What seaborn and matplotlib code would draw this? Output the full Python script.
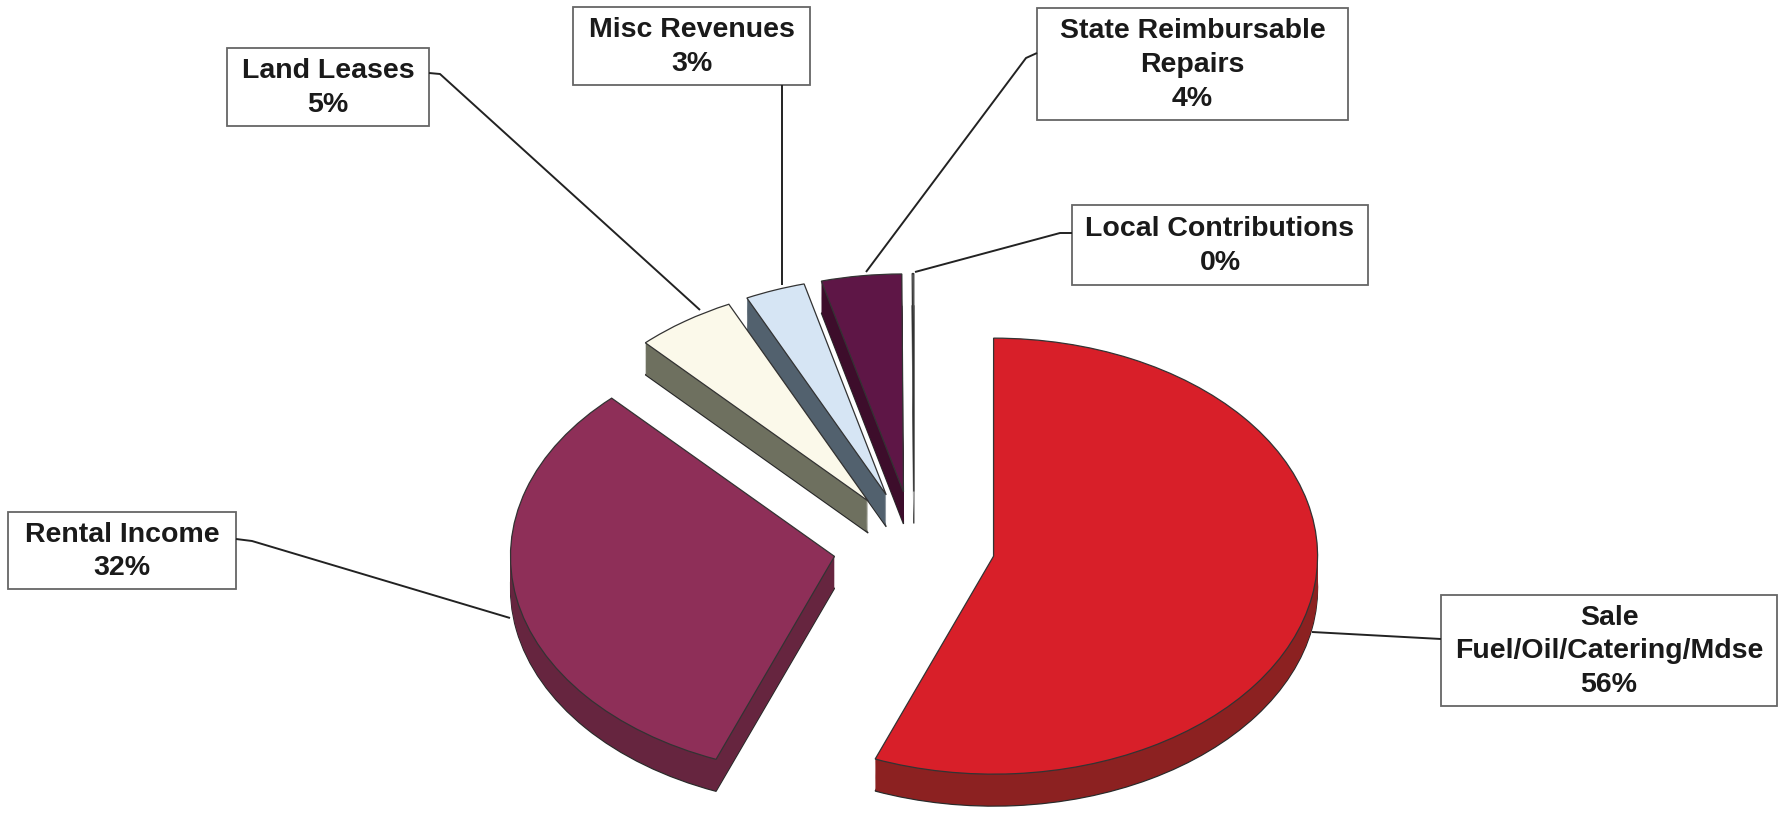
import numpy as np
import matplotlib
matplotlib.use("Agg")
import matplotlib.pyplot as plt
from matplotlib.patches import Rectangle
import seaborn as sns

# ---- data ----
categories = ["Sale\nFuel/Oil/Catering/Mdse", "Rental Income", "Land Leases",
              "Misc Revenues", "State Reimbursable\nRepairs", "Local Contributions"]
values = [56, 32, 5, 3, 4, 0.08]
top_colors = ["#d81f29", "#8e2f58", "#fbf9ea", "#d6e5f4", "#5e1646", "#ffffff"]
side_colors = ["#8c2121", "#66253f", "#6e705f", "#52616e", "#3d0d2b", "#b0b0b0"]

sns.set_style("white")
plt.rcParams["font.family"] = ["Liberation Sans", "DejaVu Sans"]

W, H = 1781, 819
fig = plt.figure(figsize=(W / 100, H / 100), dpi=100)
fig.patch.set_facecolor("white")

# pie axes: one data unit = ellipse radius (rx horizontally, ry vertically)
rx, ry = 324.0, 218.0
ax = fig.add_axes([0, 0, 1, 1])
cx, cy = 914 / rx, (H - 546) / ry
depth = 32 / ry
explode = [0.25] * len(values)

nlayers = 34
for k in range(nlayers, 0, -1):
    lw = 0.9 if k == nlayers else 0
    ax.pie(values, explode=explode, startangle=90, counterclock=False,
           colors=side_colors, center=(cx, cy - depth * k / nlayers),
           wedgeprops=dict(linewidth=lw, edgecolor="#2a2a2a"))
ax.pie(values, explode=explode, startangle=90, counterclock=False,
       colors=top_colors, center=(cx, cy),
       wedgeprops=dict(linewidth=0.9, edgecolor="#333333"))
ax.set_xlim(0, W / rx)
ax.set_ylim(0, H / ry)
ax.set_aspect("auto")
ax.axis("off")

# ---- labels in pixel coordinates (y from top) ----
lab = fig.add_axes([0, 0, 1, 1], facecolor="none")
lab.set_xlim(0, W)
lab.set_ylim(H, 0)
lab.axis("off")

pcts = [f"{round(v)}%" for v in values]
boxes = [(1441, 595, 336, 111), (8, 512, 228, 77), (227, 48, 202, 78),
         (573, 7, 237, 78), (1037, 8, 311, 112), (1072, 205, 296, 80)]
leaders = [
    [(1441, 639), (1312, 632)],
    [(236, 539), (252, 541), (510, 618)],
    [(429, 73), (440, 74), (700, 310)],
    [(782, 85), (782, 285)],
    [(1037, 53), (1026, 58), (866, 272)],
    [(1072, 233), (1060, 233), (915, 272)],
]
for name, pct, (bx, by, bw, bh), pts in zip(categories, pcts, boxes, leaders):
    xs, ys = zip(*pts)
    lab.plot(xs, ys, color="#222222", lw=1.4, solid_capstyle="butt")
    lab.add_patch(Rectangle((bx, by), bw, bh, facecolor="white",
                            edgecolor="#666666", lw=1.3))
    lab.text(bx + bw / 2, by + bh / 2 + 1, f"{name}\n{pct}", ha="center",
             va="center", fontsize=20.5, fontweight="bold", color="#1a1a1a",
             linespacing=1.38)

fig.savefig("out.png", dpi=100, facecolor="white")
